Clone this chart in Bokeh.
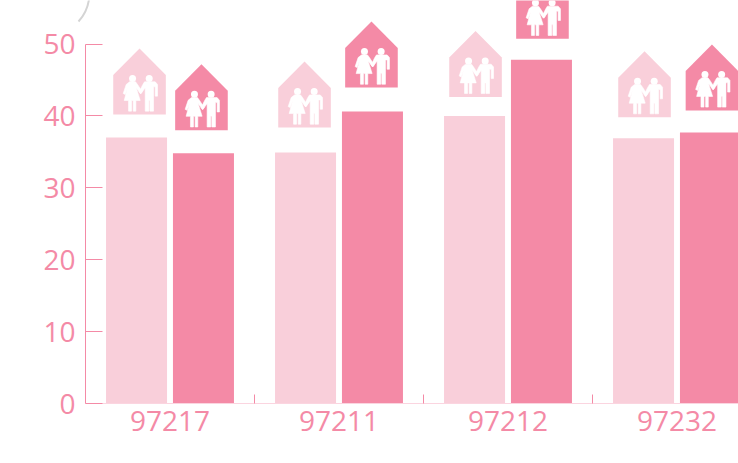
from bokeh.plotting import figure
from bokeh.embed import file_html
from bokeh.resources import INLINE
from bokeh.models import Range1d, FixedTicker
import numpy as np

zips = ["97217", "97211", "97212", "97232"]
series_a = [37.0, 34.9, 40.0, 36.9]
series_b = [34.8, 40.6, 47.8, 37.7]
y_ticks = [0, 10, 20, 30, 40, 50]

LIGHT = "#f9cfda"
DARK = "#f48aa6"
W, H = 738, 463
LEFT, BOTTOM = 85, 60
PX_X = 169.0                # pixels per category
PX_Y = 7.19                 # pixels per y unit
BAR_OFFSET = 0.198
BAR_W = 0.361

# house icon placement, in pixels relative to its bar (centre shift, gap above bar)
shift_a = [3, -1, 1, 1]
gap_a = [23, 25, 19, 21]
shift_b = [-2, -1, 1, 1.5]
gap_b = [23, 24, 21, 22]

# icon outlines in pixels, origin at bottom centre of the house, y upwards
HOUSE = [(-26.3, 0), (-26.3, 39.5), (0, 66), (26.3, 39.5), (26.3, 0)]
def _t(pts):
    return [((x - 118) / 3, (220 - y) / 3) for x, y in pts]
WOMAN = _t([(88,122),(106,122),(112,130),(126,152),(121,158),(108,140),(120,178),(107,178),(107,210),
            (99,210),(99,178),(94,178),(94,210),(85,210),(85,178),(72,178),(82,140),(75,160),(69,157),(78,130)])
MAN = _t([(133,122),(165,122),(172,130),(172,165),(165,165),(165,137),(160,137),(160,210),(149,210),
          (149,178),(146,178),(146,210),(135,210),(135,140),(122,158),(117,152),(128,130)])
HEADS = _t([(97,112),(147,112)])

p = figure(width=W, height=H, output_backend="svg", toolbar_location=None,
           x_range=Range1d(-LEFT / PX_X, (W - LEFT) / PX_X),
           y_range=Range1d(-BOTTOM / PX_Y, (H - BOTTOM) / PX_Y),
           min_border_left=0, min_border_bottom=0, min_border_top=0, min_border_right=0)
p.outline_line_color = None
p.grid.visible = False
p.background_fill_color = "white"

idx = np.arange(len(zips)) + 0.5
p.vbar(x=idx - BAR_OFFSET, top=series_a, bottom=0, width=BAR_W, color=LIGHT, line_color=None)
p.vbar(x=idx + BAR_OFFSET, top=series_b, bottom=0, width=BAR_W, color=DARK, line_color=None)

def add_icons(centres, values, shifts, gaps, color):
    hx, hy, fx, fy, cx, cy = [], [], [], [], [], []
    for c, v, s, g in zip(centres, values, shifts, gaps):
        x0 = c + s / PX_X
        y0 = v + g / PX_Y
        to_x = lambda pts: [x0 + a / PX_X for a, _ in pts]
        to_y = lambda pts: [y0 + b / PX_Y for _, b in pts]
        hx.append(to_x(HOUSE)); hy.append(to_y(HOUSE))
        for shape in (WOMAN, MAN):
            fx.append(to_x(shape)); fy.append(to_y(shape))
        cx += to_x(HEADS); cy += to_y(HEADS)
    p.patches(hx, hy, fill_color=color, line_color=None)
    p.patches(fx, fy, fill_color="white", line_color="white", line_width=0.6)
    p.scatter(cx, cy, marker="circle", size=7, fill_color="white", line_color=None)

add_icons(idx - BAR_OFFSET, series_a, shift_a, gap_a, LIGHT)
add_icons(idx + BAR_OFFSET, series_b, shift_b, gap_b, DARK)

font = "Open Sans"
ya = p.yaxis[0]
ya.fixed_location = 0
ya.ticker = FixedTicker(ticks=y_ticks)
ya.bounds = (0, 50)
ya.major_tick_in = 17
ya.major_tick_out = 0
ya.minor_tick_in = 0
ya.minor_tick_out = 0
ya.axis_line_color = DARK
ya.major_tick_line_color = DARK
ya.major_label_text_color = DARK
ya.major_label_text_font = font
ya.major_label_text_font_size = "28px"
ya.major_label_standoff = 10

xa = p.xaxis[0]
xa.fixed_location = 0
xa.ticker = FixedTicker(ticks=list(idx), minor_ticks=list(range(1, len(zips))))
xa.bounds = (0, (W - LEFT) / PX_X)
xa.major_label_overrides = {float(i): z for i, z in zip(idx, zips)}
xa.major_tick_in = 0
xa.major_tick_out = 0
xa.minor_tick_in = 9
xa.minor_tick_out = 0
xa.minor_tick_line_color = DARK
xa.axis_line_color = "#fbd5e0"
xa.major_label_text_color = DARK
xa.major_label_text_font = font
xa.major_label_text_font_size = "28px"
xa.major_label_standoff = 7

# faint grey curved stroke at the top-left corner of the picture
def px_x(v):
    return (v - LEFT) / PX_X
def px_y(v):
    return (H - BOTTOM - v) / PX_Y
p.quadratic(x0=[px_x(88.5)], y0=[px_y(-1)], x1=[px_x(78)], y1=[px_y(21)],
            cx=[px_x(86.5)], cy=[px_y(12)], line_color="#d4d4d4", line_width=2)

open("out.html", "w").write(file_html(p, INLINE))
